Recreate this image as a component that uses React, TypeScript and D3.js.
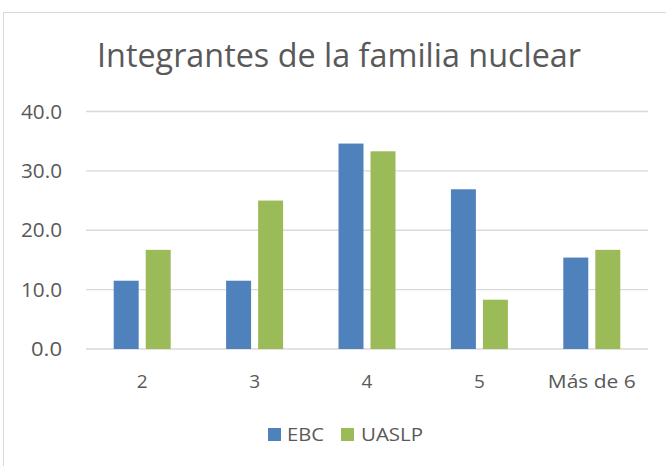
import React from "react";
import * as d3 from "d3";

const categories = ["2", "3", "4", "5", "Más de 6"];
const seriesNames = ["EBC", "UASLP"];
const ebcValues = [11.5, 11.5, 34.6, 26.9, 15.4];
const uaslpValues = [16.7, 25.0, 33.3, 8.3, 16.7];
const yTicks = [0, 10, 20, 30, 40];
const colors = ["#4F81BD", "#9BBB59"];
const title = "Integrantes de la familia nuclear";

const W = 666;
const H = 466;
const FONT = "'Open Sans', 'Noto Sans', sans-serif";
const TXT = "#595959";

export default function App() {
  const x = d3
    .scaleBand<string>()
    .domain(categories)
    .range([86, 648])
    .paddingInner(0.493)
    .paddingOuter(0.2465);
  const xs = d3
    .scaleBand<string>()
    .domain(seriesNames)
    .range([0, x.bandwidth()])
    .paddingInner(0.22);
  const y = d3.scaleLinear().domain([0, 40]).range([349, 111.5]);
  const seriesValues = [ebcValues, uaslpValues];

  return (
    <svg
      width={W}
      height={H}
      style={{ position: "absolute", left: 0, top: 0, background: "#fff" }}
      fontFamily={FONT}
    >
      <rect x={3.5} y={12.5} width={700} height={500} fill="#fff" stroke="#D9D9D9" strokeWidth={1} />
      <text
        x={339}
        y={67}
        textAnchor="middle"
        fontSize={32}
        fill={TXT}
        textLength={484}
        lengthAdjust="spacingAndGlyphs"
      >
        {title}
      </text>
      {yTicks.map((t) => (
        <g key={t}>
          <line x1={86} x2={648} y1={y(t)} y2={y(t)} stroke="#D9D9D9" strokeWidth={1.3} />
          <text
            x={62}
            y={y(t)}
            dy="0.36em"
            textAnchor="end"
            fontSize={20}
            fill={TXT}
            textLength={t >= 10 ? 41 : 31}
            lengthAdjust="spacingAndGlyphs"
          >
            {t.toFixed(1)}
          </text>
        </g>
      ))}
      {categories.map((c, i) => (
        <g key={c}>
          {seriesNames.map((s, j) => {
            const v = seriesValues[j][i];
            return (
              <rect
                key={s}
                x={(x(c) as number) + (xs(s) as number)}
                y={y(v)}
                width={xs.bandwidth()}
                height={y(0) - y(v)}
                fill={colors[j]}
              />
            );
          })}
          <text
            x={(x(c) as number) + x.bandwidth() / 2}
            y={388}
            textAnchor="middle"
            fontSize={19}
            fill={TXT}
            {...(c.length > 1 ? { textLength: 88, lengthAdjust: "spacingAndGlyphs" } : {})}
          >
            {c}
          </text>
        </g>
      ))}
      <g>
        <rect x={268} y={428} width={13} height={13} fill={colors[0]} />
        <text x={287} y={441} fontSize={18} fill={TXT} textLength={37} lengthAdjust="spacingAndGlyphs">
          {seriesNames[0]}
        </text>
        <rect x={341} y={428} width={13} height={13} fill={colors[1]} />
        <text x={361} y={441} fontSize={18} fill={TXT} textLength={62} lengthAdjust="spacingAndGlyphs">
          {seriesNames[1]}
        </text>
      </g>
    </svg>
  );
}
